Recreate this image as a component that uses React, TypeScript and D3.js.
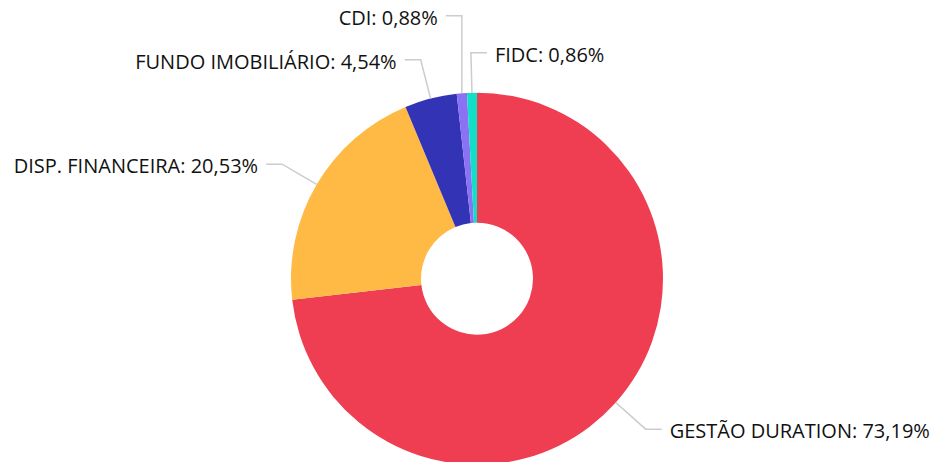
import React from "react";
import * as d3 from "d3";

const categories = ["GESTÃO DURATION", "DISP. FINANCEIRA", "FUNDO IMOBILIÁRIO", "CDI", "FIDC"];
const values = [73.19, 20.53, 4.54, 0.88, 0.86];
const colors = ["#EF3D52", "#FFBA46", "#3333B5", "#8B72F5", "#12DFC8"];

const W = 935;
const H = 462;
const cx = 477;
const cy = 278.7;
const outerR = 186;
const innerR = 56;
const len1 = 40;
const len2 = 16;
const gap = 8;
const minSpacing = 44;
const fontSize = 20;

export default function App() {
  const data = categories.map((c, i) => ({ name: c, value: values[i], color: colors[i] }));
  const pie = d3.pie<any>().value((d) => d.value).sort(null);
  const arcs = pie(data);
  const arcGen = d3.arc<any>().innerRadius(innerR).outerRadius(outerR);

  const labels = arcs.map((a, i) => {
    const mid = (a.startAngle + a.endAngle) / 2;
    const sx = cx + outerR * Math.sin(mid);
    const sy = cy - outerR * Math.cos(mid);
    const px = cx + (outerR + len1) * Math.sin(mid);
    const py = cy - (outerR + len1) * Math.cos(mid);
    const right = Math.sin(mid) > 0 || i === arcs.length - 1;
    return { a, mid, sx, sy, px, py, right, shifted: false };
  });
  // simple vertical collision on each side
  [true, false].forEach((side) => {
    const group = labels.filter((l) => l.right === side).sort((a, b) => b.py - a.py);
    for (let i = 1; i < group.length; i++) {
      const prev = group[i - 1];
      const cur = group[i];
      if (prev.py - cur.py < minSpacing && Math.abs(prev.py - cur.py) < 30) {
        cur.py = prev.py - minSpacing;
        cur.px = cur.sx;
        cur.shifted = true;
      }
    }
  });

  return (
    <svg
      width={W}
      height={H}
      style={{ position: "absolute", left: 0, top: 0, display: "block", background: "#fff" }}
      fontFamily="'Open Sans', 'Noto Sans', sans-serif"
    >
      {arcs.map((a, i) => (
        <path key={i} d={arcGen(a) || ""} transform={`translate(${cx},${cy})`} fill={a.data.color} />
      ))}
      {labels.map((l, i) => {
        const ex = l.right ? l.px + len2 : l.px - len2;
        const tx = l.right ? ex + gap : ex - gap;
        return (
          <g key={i}>
            <polyline
              points={`${l.sx},${l.sy} ${l.px},${l.py} ${ex},${l.py}`}
              fill="none"
              stroke="#CCCCCC"
              strokeWidth={1.5}
            />
            <text
              x={tx}
              y={l.py}
              dy="0.45em"
              textAnchor={l.right ? "start" : "end"}
              fontSize={fontSize}
              fill="#111"
            >
              {`${l.a.data.name}: ${l.a.data.value.toFixed(2).replace(".", ",")}%`}
            </text>
          </g>
        );
      })}
    </svg>
  );
}
